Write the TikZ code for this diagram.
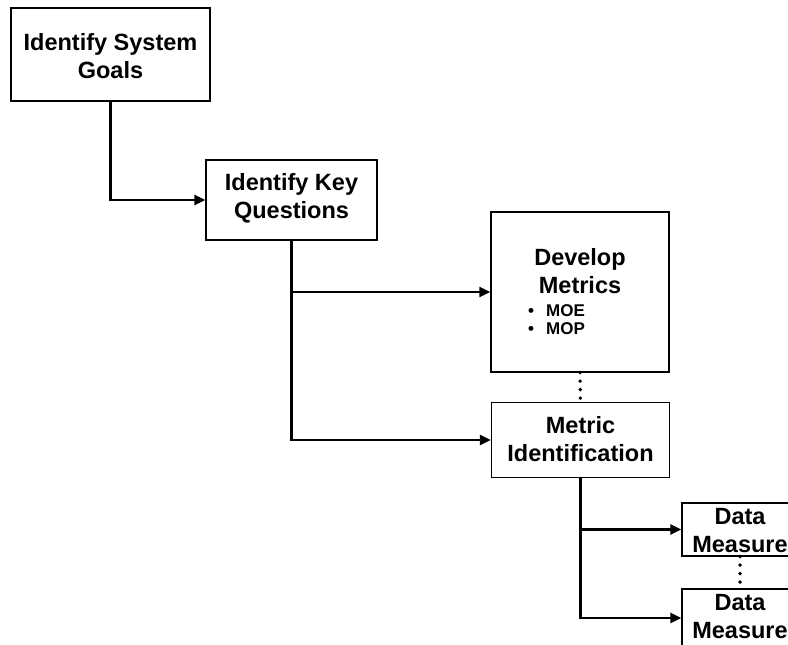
\documentclass[tikz,border=0pt]{standalone}
\usepackage{fontspec}
\setmainfont{Liberation Sans}
\usetikzlibrary{arrows.meta}
\begin{document}
\begin{tikzpicture}[x=1pt,y=-1pt,
  stepbox/.style={draw=black,line width=1.2pt,fill=white,inner sep=0pt,
    minimum width=#1},
  title/.style={font=\fontsize{23.5}{28}\selectfont\bfseries,align=center,inner sep=0pt},
  sublist/.style={font=\fontsize{17}{18}\selectfont\bfseries,align=left,inner sep=0pt},
  link/.style={line width=2.2pt,-{Triangle[length=11pt,width=10pt]}},
  dotlink/.style={line width=3.8pt,line cap=round,dash pattern=on 0pt off 8.5pt},
]
\useasboundingbox (0,0) rectangle (788,645);
\clip (0,0) rectangle (788,645);

% process boxes
\node[stepbox=199pt,minimum height=93pt] (goals) at (110.5,54.5) {};
\node[title] (goalstxt) at (110.5,56) {Identify System\\Goals};

\node[stepbox=171pt,minimum height=80pt] (questions) at (291.5,200) {};
\node[title] (questionstxt) at (291.5,198) {Identify Key\\Questions};

\node[stepbox=178pt,minimum height=160pt] (develop) at (580,292) {};
\node[title] (developtxt) at (580,271) {Develop\\Metrics};
\node[sublist,anchor=west] (developlist) at (528,320) {\textbullet\hspace{12pt}MOE\\\textbullet\hspace{12pt}MOP};

\node[stepbox=178pt,minimum height=75pt] (metric) at (580.5,440) {};
\node[title] (metrictxt) at (580.5,439) {Metric\\Identification};

\node[stepbox=116pt,minimum height=53pt] (data1) at (740,529.5) {};
\node[title] (data1txt) at (740,531) {Data\\Measure};

\node[stepbox=116pt,minimum height=58pt] (data2) at (740,618) {};
\node[title] (data2txt) at (740,617) {Data\\Measure};

% connectors
\draw[link] (goals) |- (questions);
\draw[link] (questions) |- (develop);
\draw[link] (questions) |- (metric);
\draw[link] (metric) |- (data1);
\draw[link] (metric) |- (data2);

% dotted continuations
\draw[dotlink] (develop.south) -- (metric.north);
\draw[dotlink] (data1.south) -- (data2.north);
\end{tikzpicture}
\end{document}
